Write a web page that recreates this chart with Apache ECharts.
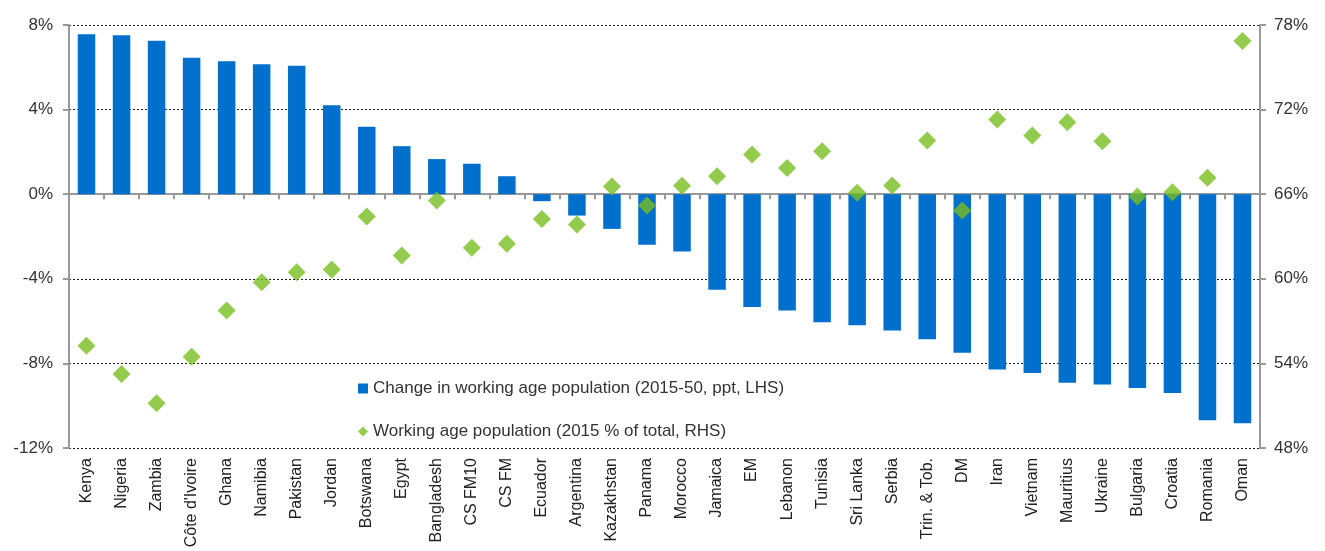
<!DOCTYPE html>
<html>
<head>
<meta charset="utf-8">
<script src="https://cdn.jsdelivr.net/npm/echarts@6/dist/echarts.min.js"></script>
<style>
html,body{margin:0;padding:0;background:#fff;}
#chart{width:1325px;height:551px;}
</style>
</head>
<body>
<div id="chart"></div>
<script>
var categories = ["Kenya","Nigeria","Zambia","Côte d'Ivoire","Ghana","Namibia","Pakistan","Jordan","Botswana","Egypt","Bangladesh","CS FM10","CS FM","Ecuador","Argentina","Kazakhstan","Panama","Morocco","Jamaica","EM","Lebanon","Tunisia","Sri Lanka","Serbia","Trin. & Tob.","DM","Iran","Vietnam","Mauritius","Ukraine","Bulgaria","Croatia","Romania","Oman"];
var changeWorkingAge = [7.56,7.52,7.26,6.45,6.29,6.14,6.07,4.20,3.19,2.27,1.66,1.44,0.85,-0.33,-1.01,-1.64,-2.39,-2.71,-4.52,-5.33,-5.50,-6.06,-6.20,-6.45,-6.86,-7.50,-8.29,-8.45,-8.92,-9.00,-9.16,-9.40,-10.69,-10.83];
var workingAgeShare = [55.26,53.25,51.17,54.48,57.75,59.75,60.46,60.66,64.42,61.65,65.55,62.2,62.48,64.25,63.85,66.55,65.2,66.6,67.28,68.82,67.85,69.05,66.1,66.62,69.81,64.84,71.3,70.17,71.11,69.76,65.84,66.14,67.16,76.86];
var leftTicks = {min:-12, max:8, interval:4};
var rightTicks = {min:48, max:78, interval:6};
var seriesNames = ["Change in working age population (2015-50, ppt, LHS)","Working age population (2015 % of total, RHS)"];

var FONT = '"Liberation Sans", Arial, sans-serif';
var chart = echarts.init(document.getElementById('chart'));
chart.setOption({
  animation:false,
  textStyle:{fontFamily:FONT},
  grid:{left:69, right:65, top:25, bottom:103},
  legend:{
    orient:'vertical', left:353, top:375, itemGap:26,
    itemWidth:10, itemHeight:10, itemStyle:{borderWidth:0},
    textStyle:{fontSize:17, color:'#333', fontFamily:FONT},
    data:[{name:seriesNames[0], icon:'rect'},{name:seriesNames[1], icon:'diamond'}]
  },
  xAxis:[{
    type:'category', data:categories, position:'bottom',
    axisLine:{show:false, onZero:false}, axisTick:{show:false},
    axisLabel:{rotate:90, interval:0, margin:10, fontSize:16, color:'#222', fontFamily:FONT}
  },{
    type:'category', data:categories, position:'bottom',
    axisLine:{show:true, onZero:true, onZeroAxisIndex:0, lineStyle:{color:'#999', width:2}},
    axisTick:{show:true, length:5, interval:0, lineStyle:{color:'#999', width:2}},
    axisLabel:{show:false}
  }],
  yAxis:[{
    type:'value', min:leftTicks.min, max:leftTicks.max, interval:leftTicks.interval,
    axisLine:{show:true, lineStyle:{color:'#999', width:2}},
    axisTick:{show:true, length:6, lineStyle:{color:'#999', width:2}},
    axisLabel:{formatter:'{value}%', fontSize:17, color:'#333', margin:16, fontFamily:FONT},
    splitLine:{show:true, lineStyle:{color:'#222', width:1, type:[2,2]}}
  },{
    type:'value', position:'right', min:rightTicks.min, max:rightTicks.max, interval:rightTicks.interval,
    axisLine:{show:true, lineStyle:{color:'#999', width:2}},
    axisTick:{show:true, length:6, lineStyle:{color:'#999', width:2}},
    axisLabel:{formatter:'{value}%', fontSize:17, color:'#333', margin:14, fontFamily:FONT},
    splitLine:{show:false}
  }],
  series:[{
    name:seriesNames[0], type:'bar', xAxisIndex:0, yAxisIndex:0,
    data:changeWorkingAge, barWidth:'50%',
    itemStyle:{color:'#0070CC'}
  },{
    name:seriesNames[1], type:'scatter', xAxisIndex:0, yAxisIndex:1,
    data:workingAgeShare, symbol:'diamond', symbolSize:[18,18],
    itemStyle:{color:'#78BE20'}, z:5
  }]
});
</script>
</body>
</html>
